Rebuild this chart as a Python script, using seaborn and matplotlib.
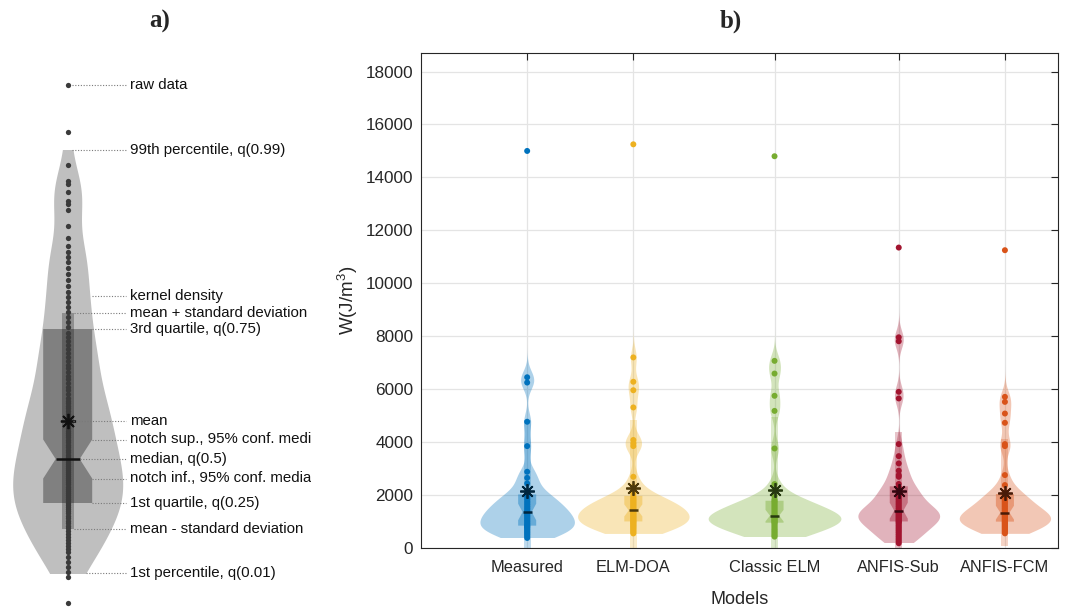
import numpy as np
import pandas as pd
import matplotlib
matplotlib.use("Agg")
import matplotlib.pyplot as plt
from matplotlib.patches import Polygon, Rectangle
import seaborn as sns

# ---------------- panel b: W (J/m^3) per model ----------------
models = ["Measured", "ELM-DOA", "Classic ELM", "ANFIS-Sub", "ANFIS-FCM"]
model_pos = [1.0, 2.0, 3.33, 4.5, 5.5]
model_colors = ["#0072BD", "#EDB120", "#77AC30", "#A2142F", "#D95319"]

w_measured = [380, 450, 520, 580, 640, 700, 760, 800, 830, 860, 920, 990, 1060,
              1130, 1200, 1260, 1320, 1360, 1400, 1480, 1560, 1650, 1740, 1840,
              1950, 1980, 2070, 2440, 2650, 2880, 3850, 4770, 6250, 6450, 15000]
w_elm_doa = [550, 600, 650, 700, 745, 790, 830, 870, 910, 950, 985, 1010, 1050,
             1090, 1130, 1170, 1210, 1250, 1290, 1330, 1370, 1410, 1430, 1480,
             1530, 1580, 1630, 1680, 1730, 1780, 1830, 1880, 1940, 2050, 2310,
             2690, 3850, 3950, 4080, 5310, 5960, 6280, 7200, 15250]
w_classic_elm = [430, 480, 540, 600, 660, 720, 790, 860, 930, 965, 1000, 1035,
                 1070, 1105, 1140, 1170, 1200, 1215, 1230, 1300, 1370, 1440,
                 1510, 1580, 1650, 1720, 1770, 1830, 1960, 2415, 3760, 5180,
                 5750, 6590, 7070, 14800]
w_anfis_sub = [180, 260, 340, 420, 500, 580, 650, 720, 790, 860, 930, 980, 1010,
               1050, 1090, 1130, 1170, 1210, 1250, 1290, 1320, 1350, 1380, 1400,
               1420, 1500, 1580, 1660, 1740, 1820, 1900, 1980, 2060, 2140, 2220,
               2300, 2420, 2690, 2755, 2920, 3195, 3470, 3925, 5650, 5900, 7810,
               7960, 11350]
w_anfis_fcm = [553, 610, 660, 710, 760, 810, 860, 910, 950, 985, 1000, 1040, 1080,
               1120, 1160, 1200, 1240, 1280, 1310, 1325, 1345, 1420, 1500, 1580,
               1660, 1740, 1820, 1900, 1970, 2020, 2100, 2377, 2755, 3850, 3925,
               4730, 5080, 5520, 5710, 11250]
series = [w_measured, w_elm_doa, w_classic_elm, w_anfis_sub, w_anfis_fcm]
yticks_b = [0, 2000, 4000, 6000, 8000, 10000, 12000, 14000, 16000, 18000]

# ---------------- panel a: annotated guide sample ----------------
guide_points = [5, 31, 36, 41, 46, 51, 56, 59, 62, 65, 68, 71, 74, 77, 80, 82, 85,
                87, 90, 92, 95, 97, 99, 101, 103, 105, 107, 109, 111, 113, 115,
                117, 119, 121, 124, 126, 128, 130, 132, 134, 136, 138, 140, 142,
                144, 146, 149, 151, 153, 156, 158, 161, 163, 166, 168, 171, 173,
                175, 177, 180, 183, 186, 189, 191, 194, 197, 200, 202, 205, 207,
                210, 214, 218, 221, 225, 229, 232, 236, 240, 243, 247, 251, 255,
                259, 263, 267, 271, 275, 281, 286, 291, 296, 301, 306, 311, 316,
                322, 328, 334, 340, 346, 351, 356, 362, 370, 382, 398, 404, 407,
                416, 424, 427, 443, 476, 523]
guide_q01, guide_q1, guide_median, guide_q3, guide_q99 = 35, 105, 149, 279, 458
guide_mean, guide_std, guide_notch = 187, 108, 19.5


def dark(c, f=0.33):
    r, g, b = matplotlib.colors.to_rgb(c)
    return (r * f, g * f, b * f)


def draw_violin(ax, values, pos, color, width, bw, lo, hi, alpha):
    values = np.asarray(values, float)
    n_before = len(ax.collections)
    sns.violinplot(x=np.full(values.size, pos), y=values, native_scale=True,
                   orient="x", ax=ax, color=color, saturation=1, cut=0,
                   gridsize=1200, inner=None, density_norm="width", width=width,
                   bw_method=bw / values.std(ddof=1), linewidth=0, alpha=alpha)
    clip = Rectangle((pos - width, lo), 2 * width, hi - lo, transform=ax.transData)
    for coll in ax.collections[n_before:]:
        coll.set_clip_path(clip)
        coll.set_zorder(1)


def draw_summary(ax, pos, q1, med, q3, notch, mean, std, color, edge,
                 half_w, notch_w, bar_w, box_alpha, bar_alpha, star_size, med_lw):
    n_hi = min(med + notch, q3)
    n_lo = max(med - notch, q1)
    ax.add_patch(Rectangle((pos - bar_w, mean - std), 2 * bar_w, 2 * std,
                           facecolor=color, alpha=bar_alpha, lw=0, zorder=2))
    outline = [(pos - half_w, q1), (pos - half_w, n_lo), (pos - notch_w, med),
               (pos - half_w, n_hi), (pos - half_w, q3), (pos + half_w, q3),
               (pos + half_w, n_hi), (pos + notch_w, med), (pos + half_w, n_lo),
               (pos + half_w, q1)]
    ax.add_patch(Polygon(outline, closed=True, facecolor=color, alpha=box_alpha,
                         lw=0, zorder=2.5))
    ax.plot([pos - notch_w, pos + notch_w], [med, med], color=edge, lw=med_lw,
            solid_capstyle="butt", zorder=4)
    ax.plot([pos], [mean], marker=(8, 2, 0), ms=star_size, mew=1.3,
            color=edge, zorder=5)


sns.set_style("white")
plt.rcParams["font.family"] = ["Liberation Sans", "DejaVu Sans"]
plt.rcParams["mathtext.default"] = "regular"

fig = plt.figure(figsize=(10.67, 6.08), dpi=100)
axa = fig.add_axes([0, 0, 311 / 1067, 1])
axb = fig.add_axes([421 / 1067, 60 / 608, 637 / 1067, 495 / 608])

# ---------------- panel b ----------------
violin_widths = [0.89, 1.05, 1.25, 0.77, 0.86]
for pos, col, vw, vals in zip(model_pos, model_colors, violin_widths, series):
    vals = np.asarray(vals, float)
    q01, q99 = np.percentile(vals, [1, 99])
    draw_violin(axb, vals, pos, col, vw, 330, q01, q99, 0.32)

df = pd.DataFrame({
    "model": np.repeat(models, [len(s) for s in series]),
    "pos": np.repeat(model_pos, [len(s) for s in series]),
    "W": np.concatenate([np.asarray(s, float) for s in series]),
})
sns.stripplot(data=df, x="pos", y="W", hue="model", native_scale=True,
              palette=dict(zip(models, model_colors)), jitter=False, size=4.3,
              linewidth=0, legend=False, ax=axb, zorder=3)

for pos, col, vals in zip(model_pos, model_colors, series):
    vals = np.asarray(vals, float)
    q1, med, q3 = np.percentile(vals, [25, 50, 75])
    notch = 1.57 * (q3 - q1) / np.sqrt(vals.size)
    draw_summary(axb, pos, q1, med, q3, notch, vals.mean(), vals.std(ddof=1),
                 col, dark(col), 0.085, 0.043, 0.033, 0.4, 0.25, 10.5, 1.8)

axb.set_xlim(0, 6)
axb.set_ylim(0, 18700)
axb.set_xticks(model_pos)
axb.set_xticklabels(models)
axb.set_yticks(yticks_b)
axb.tick_params(axis="both", direction="in", length=5, width=0.8, top=True,
                right=True, labelsize=12, colors="#262626")
axb.tick_params(axis="x", pad=9, labelsize=11.8)
axb.tick_params(axis="y", pad=5.5, labelsize=12.3)
axb.grid(True, color="#e4e4e4", linewidth=0.9)
axb.set_axisbelow(True)
for sp in axb.spines.values():
    sp.set_color("#262626")
    sp.set_linewidth(0.8)
axb.set_xlabel("Models", fontsize=13, labelpad=11, color="#262626")
axb.set_ylabel("W(J/m$^3$)", fontsize=13.5, labelpad=4, color="#262626")

# ---------------- panel a ----------------
guide_x = 67.7
gp = np.asarray(guide_points, float)
draw_violin(axa, gp, guide_x, "#bfbfbf", 110, 22, guide_q01, guide_q99, 1.0)
sns.stripplot(x=np.full(gp.size, guide_x), y=gp, native_scale=True, orient="x",
              jitter=False, color="#3a3a3a", size=3.8, linewidth=0, ax=axa,
              zorder=3)
draw_summary(axa, guide_x, guide_q1, guide_median, guide_q3, guide_notch,
             guide_mean, guide_std, "black", "#111111", 24.5, 12, 6.2,
             0.33, 0.25, 11, 1.8)

guide_labels = [
    ("raw data", 523, 4),
    ("99th percentile, q(0.99)", guide_q99, 4.5),
    ("kernel density", 312, 24),
    ("mean + standard deviation", guide_mean + guide_std, 6.5),
    ("3rd quartile, q(0.75)", guide_q3, 24.5),
    ("mean", guide_mean, 5.5),
    ("notch sup., 95% conf. median", guide_median + guide_notch, 24.5),
    ("median, q(0.5)", guide_median, 12.5),
    ("notch inf., 95% conf. median", guide_median - guide_notch, 24.5),
    ("1st quartile, q(0.25)", guide_q1, 24.5),
    ("mean - standard deviation", guide_mean - guide_std, 6.5),
    ("1st percentile, q(0.01)", guide_q01, 18.5),
]
for text, yv, dx in guide_labels:
    axa.plot([guide_x + dx, 126], [yv, yv], ls=(0, (1, 1.5)), lw=0.8,
             color="#7a7a7a", zorder=6)
    axa.text(130, yv, text, fontsize=10.8, va="center", ha="left",
             color="#111111", clip_on=True, zorder=6)

axa.set_xlim(0, 311)
axa.set_ylim(0, 608)
axa.axis("off")

fig.text(160 / 1067, 1 - 21 / 608, "a)", ha="center", va="center",
         family="Liberation Serif", fontweight="bold", fontsize=18)
fig.text(731 / 1067, 1 - 21 / 608, "b)", ha="center", va="center",
         family="Liberation Serif", fontweight="bold", fontsize=18)

fig.savefig("out.png", dpi=100)
